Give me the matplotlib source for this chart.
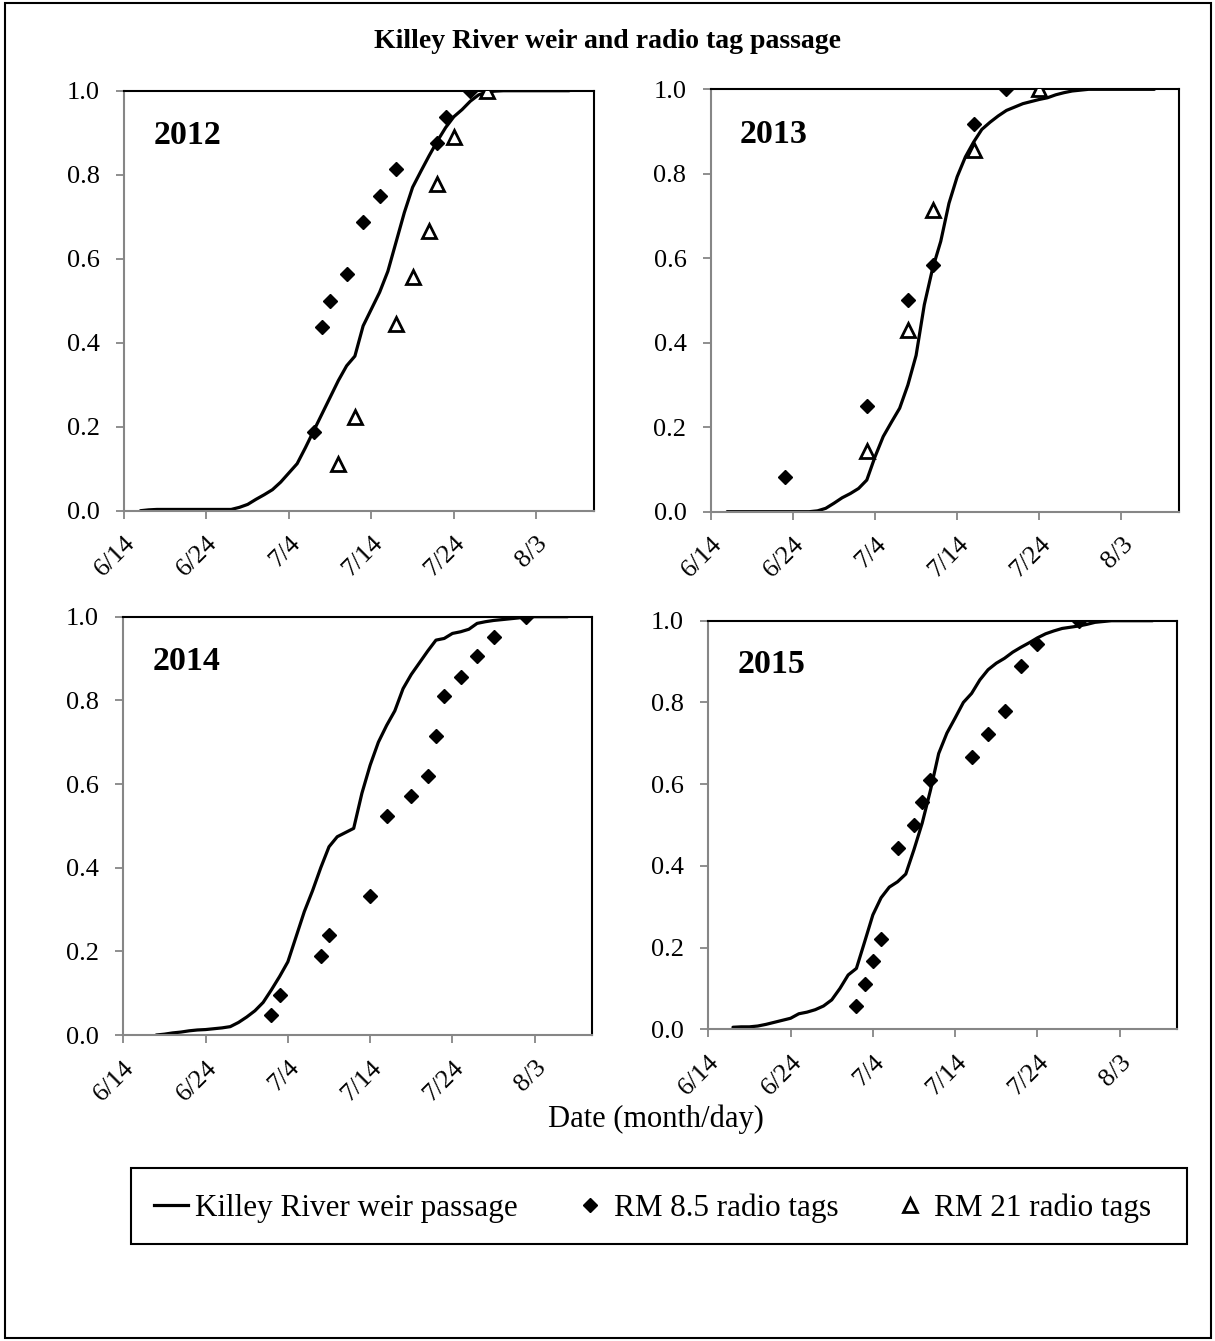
import matplotlib
matplotlib.use('Agg')
import matplotlib.pyplot as plt
from matplotlib.patches import Rectangle
from matplotlib.lines import Line2D

plt.rcParams['font.family'] = ['Liberation Serif', 'DejaVu Serif']

# x values are days after 6/14
tick_days = [0, 10, 20, 30, 40, 50]
tick_labels = ['6/14', '6/24', '7/4', '7/14', '7/24', '8/3']

# Killey River weir cumulative passage (one value per day)
weir_2012_days = list(range(2, 55))
weir_2012 = [0.000, 0.002, 0.003, 0.003, 0.003, 0.003, 0.003, 0.003, 0.003, 0.003, 0.003,
             0.003, 0.008, 0.015, 0.027, 0.038, 0.050, 0.068, 0.090, 0.112, 0.150,
             0.190, 0.230, 0.270, 0.310, 0.345, 0.368, 0.440, 0.480, 0.520, 0.570,
             0.640, 0.710, 0.770, 0.808, 0.845, 0.880, 0.912, 0.938, 0.955, 0.975,
             0.990, 0.997, 0.999, 1.0, 1.0, 1.0, 1.0, 1.0, 1.0, 1.0, 1.0, 1.0]

weir_2013_days = list(range(2, 55))
weir_2013 = [0.0, 0.0, 0.0, 0.0, 0.0, 0.0, 0.0, 0.0, 0.0, 0.0, 0.0,
             0.002, 0.008, 0.020, 0.033, 0.043, 0.055, 0.075, 0.130, 0.178, 0.212,
             0.245, 0.300, 0.370, 0.490, 0.575, 0.640, 0.730, 0.793, 0.840, 0.875,
             0.905, 0.922, 0.937, 0.950, 0.958, 0.966, 0.971, 0.976, 0.980, 0.987,
             0.992, 0.996, 0.998, 1.0, 1.0, 1.0, 1.0, 1.0, 1.0, 1.0, 1.0, 1.0]

weir_2014_days = list(range(4, 55))
weir_2014 = [0.000, 0.002, 0.005, 0.007, 0.010, 0.012, 0.013, 0.015, 0.017, 0.020,
             0.030, 0.043, 0.058, 0.078, 0.108, 0.140, 0.175, 0.235, 0.295, 0.345,
             0.400, 0.450, 0.474, 0.484, 0.494, 0.578, 0.645, 0.700, 0.740, 0.775,
             0.828, 0.862, 0.890, 0.918, 0.944, 0.948, 0.960, 0.964, 0.970, 0.984,
             0.988, 0.991, 0.993, 0.995, 0.997, 1.0, 1.0, 1.0, 1.0, 1.0, 1.0]

weir_2015_days = list(range(3, 55))
weir_2015 = [0.005, 0.006, 0.006, 0.008, 0.012, 0.017, 0.022, 0.027, 0.038, 0.042,
             0.048, 0.057, 0.072, 0.100, 0.133, 0.149, 0.214, 0.280, 0.322, 0.348,
             0.361, 0.380, 0.440, 0.505, 0.585, 0.675, 0.725, 0.762, 0.800, 0.822,
             0.855, 0.880, 0.896, 0.908, 0.923, 0.935, 0.946, 0.958, 0.968, 0.975,
             0.981, 0.984, 0.987, 0.991, 0.996, 0.998, 1.0, 1.0, 1.0, 1.0, 1.0, 1.0]

# RM 8.5 radio tags
rm85_2012_days = [23, 24, 25, 27, 29, 31, 33, 38, 39, 42]
rm85_2012 = [0.1875, 0.4375, 0.5, 0.5625, 0.6875, 0.75, 0.8125, 0.875, 0.9375, 1.0]
rm85_2013_days = [9, 19, 24, 27, 32, 36]
rm85_2013 = [0.083, 0.25, 0.5, 0.583, 0.917, 1.0]
rm85_2014_days = [18, 19, 24, 25, 30, 32, 35, 37, 38, 39, 41, 43, 45, 49]
rm85_2014 = [0.048, 0.095, 0.190, 0.238, 0.333, 0.524, 0.571, 0.619, 0.714, 0.810,
             0.857, 0.905, 0.952, 1.0]
rm85_2015_days = [18, 19, 20, 21, 23, 25, 26, 27, 32, 34, 36, 38, 40, 45]
rm85_2015 = [0.056, 0.111, 0.167, 0.222, 0.444, 0.5, 0.556, 0.611, 0.667, 0.722,
             0.778, 0.889, 0.944, 1.0]

# RM 21 radio tags (2012 and 2013 only)
rm21_2012_days = [26, 28, 33, 35, 37, 38, 40, 44]
rm21_2012 = [0.111, 0.222, 0.444, 0.556, 0.667, 0.778, 0.889, 1.0]
rm21_2013_days = [19, 24, 27, 32, 40]
rm21_2013 = [0.143, 0.429, 0.714, 0.857, 1.0]

W, H = 1215, 1341
fig = plt.figure(figsize=(W / 100, H / 100), dpi=100)

# axes boxes in pixels: left, top, right, bottom
boxes = [(124, 90.7, 594, 510.7), (710.7, 89.3, 1179, 511.7),
         (123.3, 616.7, 592.3, 1035), (708.3, 620.7, 1177.3, 1029.3)]

panels = [
    ('2012', weir_2012_days, weir_2012, rm85_2012_days, rm85_2012, rm21_2012_days, rm21_2012),
    ('2013', weir_2013_days, weir_2013, rm85_2013_days, rm85_2013, rm21_2013_days, rm21_2013),
    ('2014', weir_2014_days, weir_2014, rm85_2014_days, rm85_2014, None, None),
    ('2015', weir_2015_days, weir_2015, rm85_2015_days, rm85_2015, None, None),
]

gray = '#868686'
for (l, t, r, b), (year, wd, wv, d85, v85, d21, v21) in zip(boxes, panels):
    ax = fig.add_axes([l / W, 1 - b / H, (r - l) / W, (b - t) / H])
    ax.plot(wd, wv, color='black', lw=2.3, solid_capstyle='round', zorder=2)
    ax.plot(d85, v85, ls='none', marker='D', ms=7.6, color='black', zorder=3)
    if d21 is not None:
        ax.plot(d21, v21, ls='none', marker='^', ms=9.5, mfc='white', mec='black',
                mew=2.0, zorder=3)
    ax.set_xlim(0, 57)
    ax.set_ylim(0, 1)
    ax.set_xticks(tick_days)
    ax.set_xticklabels(tick_labels, rotation=45, ha='right', va='top',
                       rotation_mode='anchor', fontsize=19)
    ax.set_yticks([0, 0.2, 0.4, 0.6, 0.8, 1.0])
    ax.set_yticklabels(['%.1f' % v for v in [0, 0.2, 0.4, 0.6, 0.8, 1.0]], fontsize=19)
    ax.tick_params(direction='out', length=5.5, width=1.3, color=gray)
    ax.tick_params(axis='y', pad=12)
    ax.tick_params(axis='x', pad=10)
    for s in ['left', 'bottom']:
        ax.spines[s].set_color(gray)
        ax.spines[s].set_linewidth(1.5)
    for s in ['top', 'right']:
        ax.spines[s].set_color('black')
        ax.spines[s].set_linewidth(1.5)
    ax.text(0.062, 0.893, year, transform=ax.transAxes, fontsize=24.5,
            fontweight='bold', ha='left', va='center')

fig.text(608 / W, 1 - 42 / H, 'Killey River weir and radio tag passage',
         fontsize=20, fontweight='bold', ha='center', va='center')
fig.text(656 / W, 1 - 1119 / H, 'Date (month/day)', fontsize=22,
         ha='center', va='center')

# legend box drawn separately so its size matches the reference
fig.patches.append(Rectangle((131 / W, 1 - 1244 / H), 1056 / W, 76 / H,
                             transform=fig.transFigure, fill=False,
                             edgecolor='black', lw=1.5))
handles = [
    Line2D([], [], color='black', lw=2.3),
    Line2D([], [], ls='none', marker='D', ms=7.6, color='black'),
    Line2D([], [], ls='none', marker='^', ms=9.5, mfc='white', mec='black', mew=2.0),
]
labels = ['Killey River weir passage', 'RM 8.5 radio tags', 'RM 21 radio tags']
leg = fig.legend(handles, labels, loc='center left', ncol=3,
                 bbox_to_anchor=(154 / W, 1 - 1208 / H),
                 fontsize=22.4, frameon=False, handlelength=1.1,
                 handletextpad=0.23, columnspacing=1.75, borderaxespad=0,
                 borderpad=0)

fig.patches.append(Rectangle((5 / W, 3 / H), 1206 / W, 1335 / H, transform=fig.transFigure,
                             fill=False, edgecolor='black', lw=1.5))

fig.savefig('out.png', dpi=100)
